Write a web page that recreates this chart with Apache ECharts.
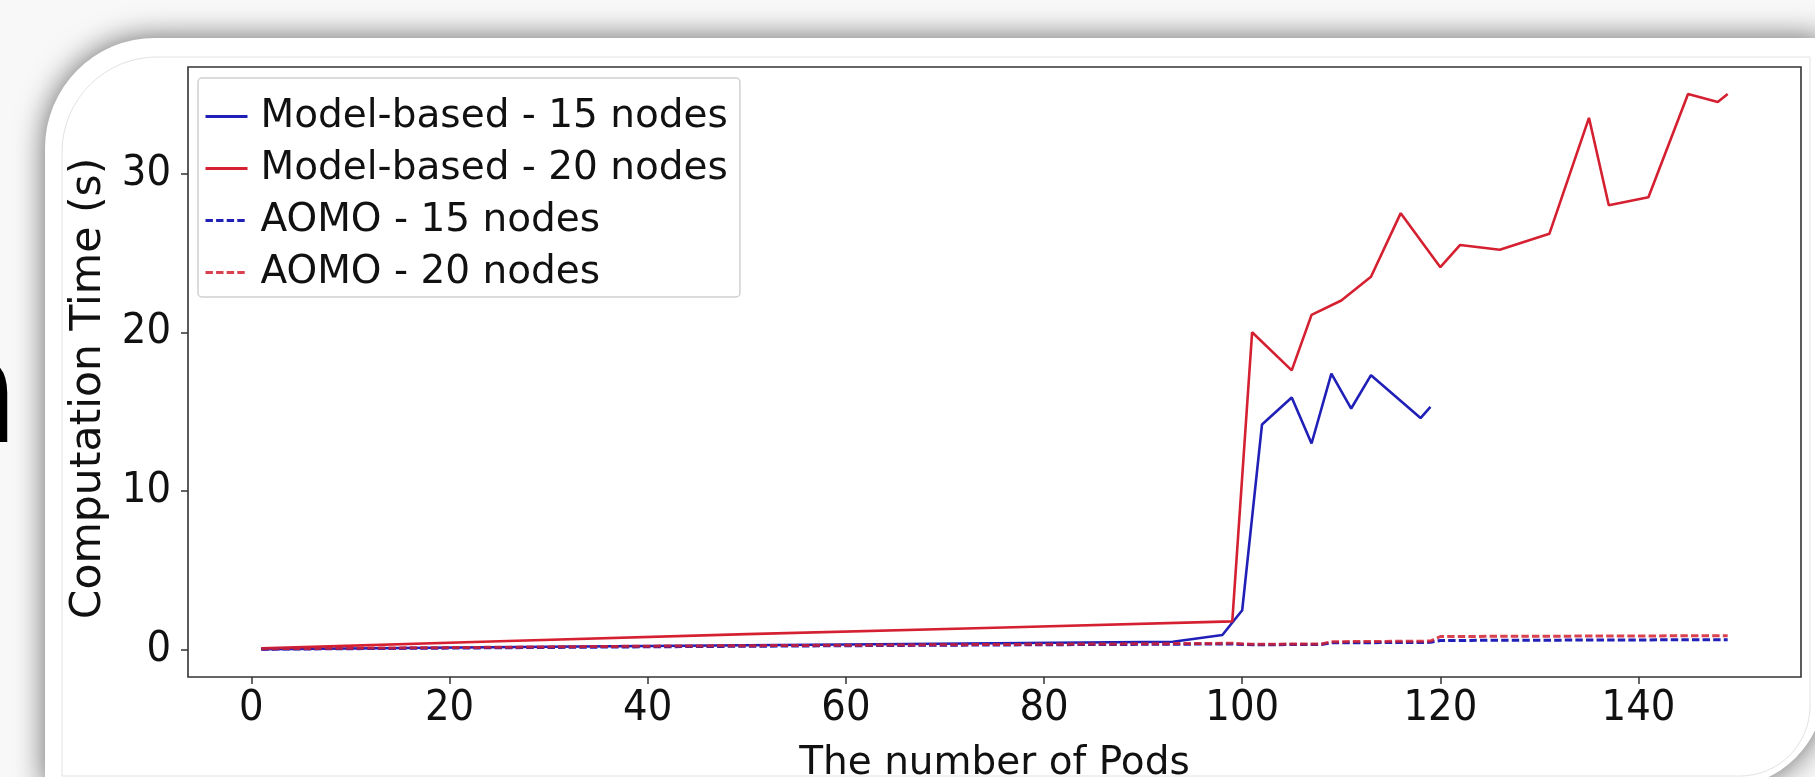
<!DOCTYPE html>
<html>
<head>
<meta charset="utf-8">
<script src="https://cdn.jsdelivr.net/npm/echarts@6.0.0/dist/echarts.min.js"></script>
<style>
html, body { margin: 0; padding: 0; background: #f8f8f8; }
#chart { width: 1815px; height: 777px; }
</style>
</head>
<body>
<div id="chart"></div>
<script>
// values
const model15Pods = [1, 30, 60, 93, 98, 100, 102, 105, 107, 109, 111, 113, 118, 119];
const model15Time = [0.05, 0.2, 0.35, 0.52, 0.94, 2.5, 14.2, 15.9, 13.0, 17.4, 15.2, 17.3, 14.6, 15.3];

const model20Pods = [1, 25, 50, 75, 99, 101, 105, 107, 110, 113, 116, 120, 122, 126, 131, 135, 137, 141, 145, 148, 149];
const model20Time = [0.1, 0.55, 1.0, 1.4, 1.8, 20.0, 17.6, 21.1, 22.0, 23.5, 27.5, 24.1, 25.5, 25.2, 26.2, 33.5, 28.0, 28.5, 35.0, 34.5, 35.0];

const aomoPods = [1, 20, 40, 60, 80, 99, 101, 108, 109, 119, 120, 149];
const aomo15Time = [0.05, 0.12, 0.2, 0.27, 0.33, 0.38, 0.33, 0.35, 0.45, 0.48, 0.6, 0.65];
const aomo20Time = [0.08, 0.15, 0.24, 0.3, 0.36, 0.42, 0.36, 0.38, 0.52, 0.56, 0.85, 0.9];

const xTicks = [0, 20, 40, 60, 80, 100, 120, 140];
const yTicks = [0, 10, 20, 30];

const seriesNames = ['Model-based - 15 nodes', 'Model-based - 20 nodes', 'AOMO - 15 nodes', 'AOMO - 20 nodes'];

function pairs(xs, ys) {
    return xs.map((x, i) => [x, ys[i]]);
}

const blue = '#2020b8';
const red = '#d42030';
const sans = '"DejaVu Sans", sans-serif';
const narrow = '"DejaVu Sans Condensed", "DejaVu Sans", sans-serif';

let myChart = echarts.init(document.getElementById('chart'), null, { renderer: 'canvas' });

const option = {
    backgroundColor: '#f8f8f8',
    animation: false,
    graphic: [
        {
            type: 'rect', z: -10,
            shape: { x: 45, y: 38, width: 1780, height: 749, r: [110, 0, 100, 0] },
            style: { fill: '#ffffff', shadowBlur: 30, shadowColor: 'rgba(0,0,0,0.6)' }
        },
        {
            type: 'rect', z: -9,
            shape: { x: 62, y: 57, width: 1748, height: 719, r: [95, 0, 70, 0] },
            style: { fill: 'none', stroke: '#e2e2e2', lineWidth: 1 }
        },
        {
            type: 'text', z: -8,
            x: -74, y: 404,
            style: { text: 'n', fontSize: 148, fontFamily: sans, fill: '#000', align: 'left', verticalAlign: 'middle' }
        }
    ],
    grid: {
        left: 188, right: 14, top: 67, bottom: 100,
        outerBoundsMode: 'none',
        containLabel: false,
        show: true, borderColor: '#333', borderWidth: 1.6, backgroundColor: '#ffffff'
    },
    legend: {
        orient: 'vertical',
        left: 198, top: 78,
        padding: [19, 12, 5, 6],
        itemWidth: 42, itemHeight: 14, itemGap: 13,
        backgroundColor: 'rgba(255,255,255,0.85)',
        borderColor: '#d0d0d0', borderWidth: 1.5, borderRadius: 4,
        itemStyle: { opacity: 0 },
        lineStyle: { width: 3 },
        textStyle: { fontSize: 39, lineHeight: 39, fontFamily: sans, color: '#111', padding: [0, 0, 0, 8] },
        data: seriesNames
    },
    xAxis: {
        type: 'value',
        min: -6.4, max: 156.4,
        name: 'The number of Pods',
        nameLocation: 'middle', nameGap: 67,
        nameTextStyle: { fontSize: 39, fontFamily: sans, color: '#111' },
        axisLine: { show: false, onZero: false },
        axisTick: { show: true, length: 7, customValues: xTicks, lineStyle: { color: '#333', width: 1.5 } },
        axisLabel: { customValues: xTicks, margin: 10, fontSize: 43, fontFamily: narrow, color: '#111' },
        splitLine: { show: false }
    },
    yAxis: {
        type: 'value',
        min: -1.7, max: 36.7,
        name: 'Computation Time (s)',
        nameLocation: 'middle', nameGap: 71,
        nameTextStyle: { fontSize: 42.5, fontFamily: sans, color: '#111', padding: [0, 33, 0, 0] },
        axisLine: { show: false, onZero: false },
        axisTick: { show: true, length: 7, customValues: yTicks, lineStyle: { color: '#333', width: 1.5 } },
        axisLabel: { customValues: yTicks, margin: 17, fontSize: 43, fontFamily: narrow, color: '#111' },
        splitLine: { show: false }
    },
    series: [
        {
            name: seriesNames[0], type: 'line', showSymbol: false, symbol: 'none',
            data: pairs(model15Pods, model15Time),
            lineStyle: { color: blue, width: 2.6 }, itemStyle: { color: blue }
        },
        {
            name: seriesNames[1], type: 'line', showSymbol: false, symbol: 'none',
            data: pairs(model20Pods, model20Time),
            lineStyle: { color: red, width: 2.6 }, itemStyle: { color: red }
        },
        {
            name: seriesNames[2], type: 'line', showSymbol: false, symbol: 'none',
            data: pairs(aomoPods, aomo15Time),
            lineStyle: { color: blue, width: 3, type: [7.4, 3.2] }, itemStyle: { color: blue }
        },
        {
            name: seriesNames[3], type: 'line', showSymbol: false, symbol: 'none',
            data: pairs(aomoPods, aomo20Time),
            lineStyle: { color: red, width: 3, type: [7.4, 3.2], opacity: 0.85 }, itemStyle: { color: red }
        }
    ]
};

myChart.setOption(option);
</script>
</body>
</html>
